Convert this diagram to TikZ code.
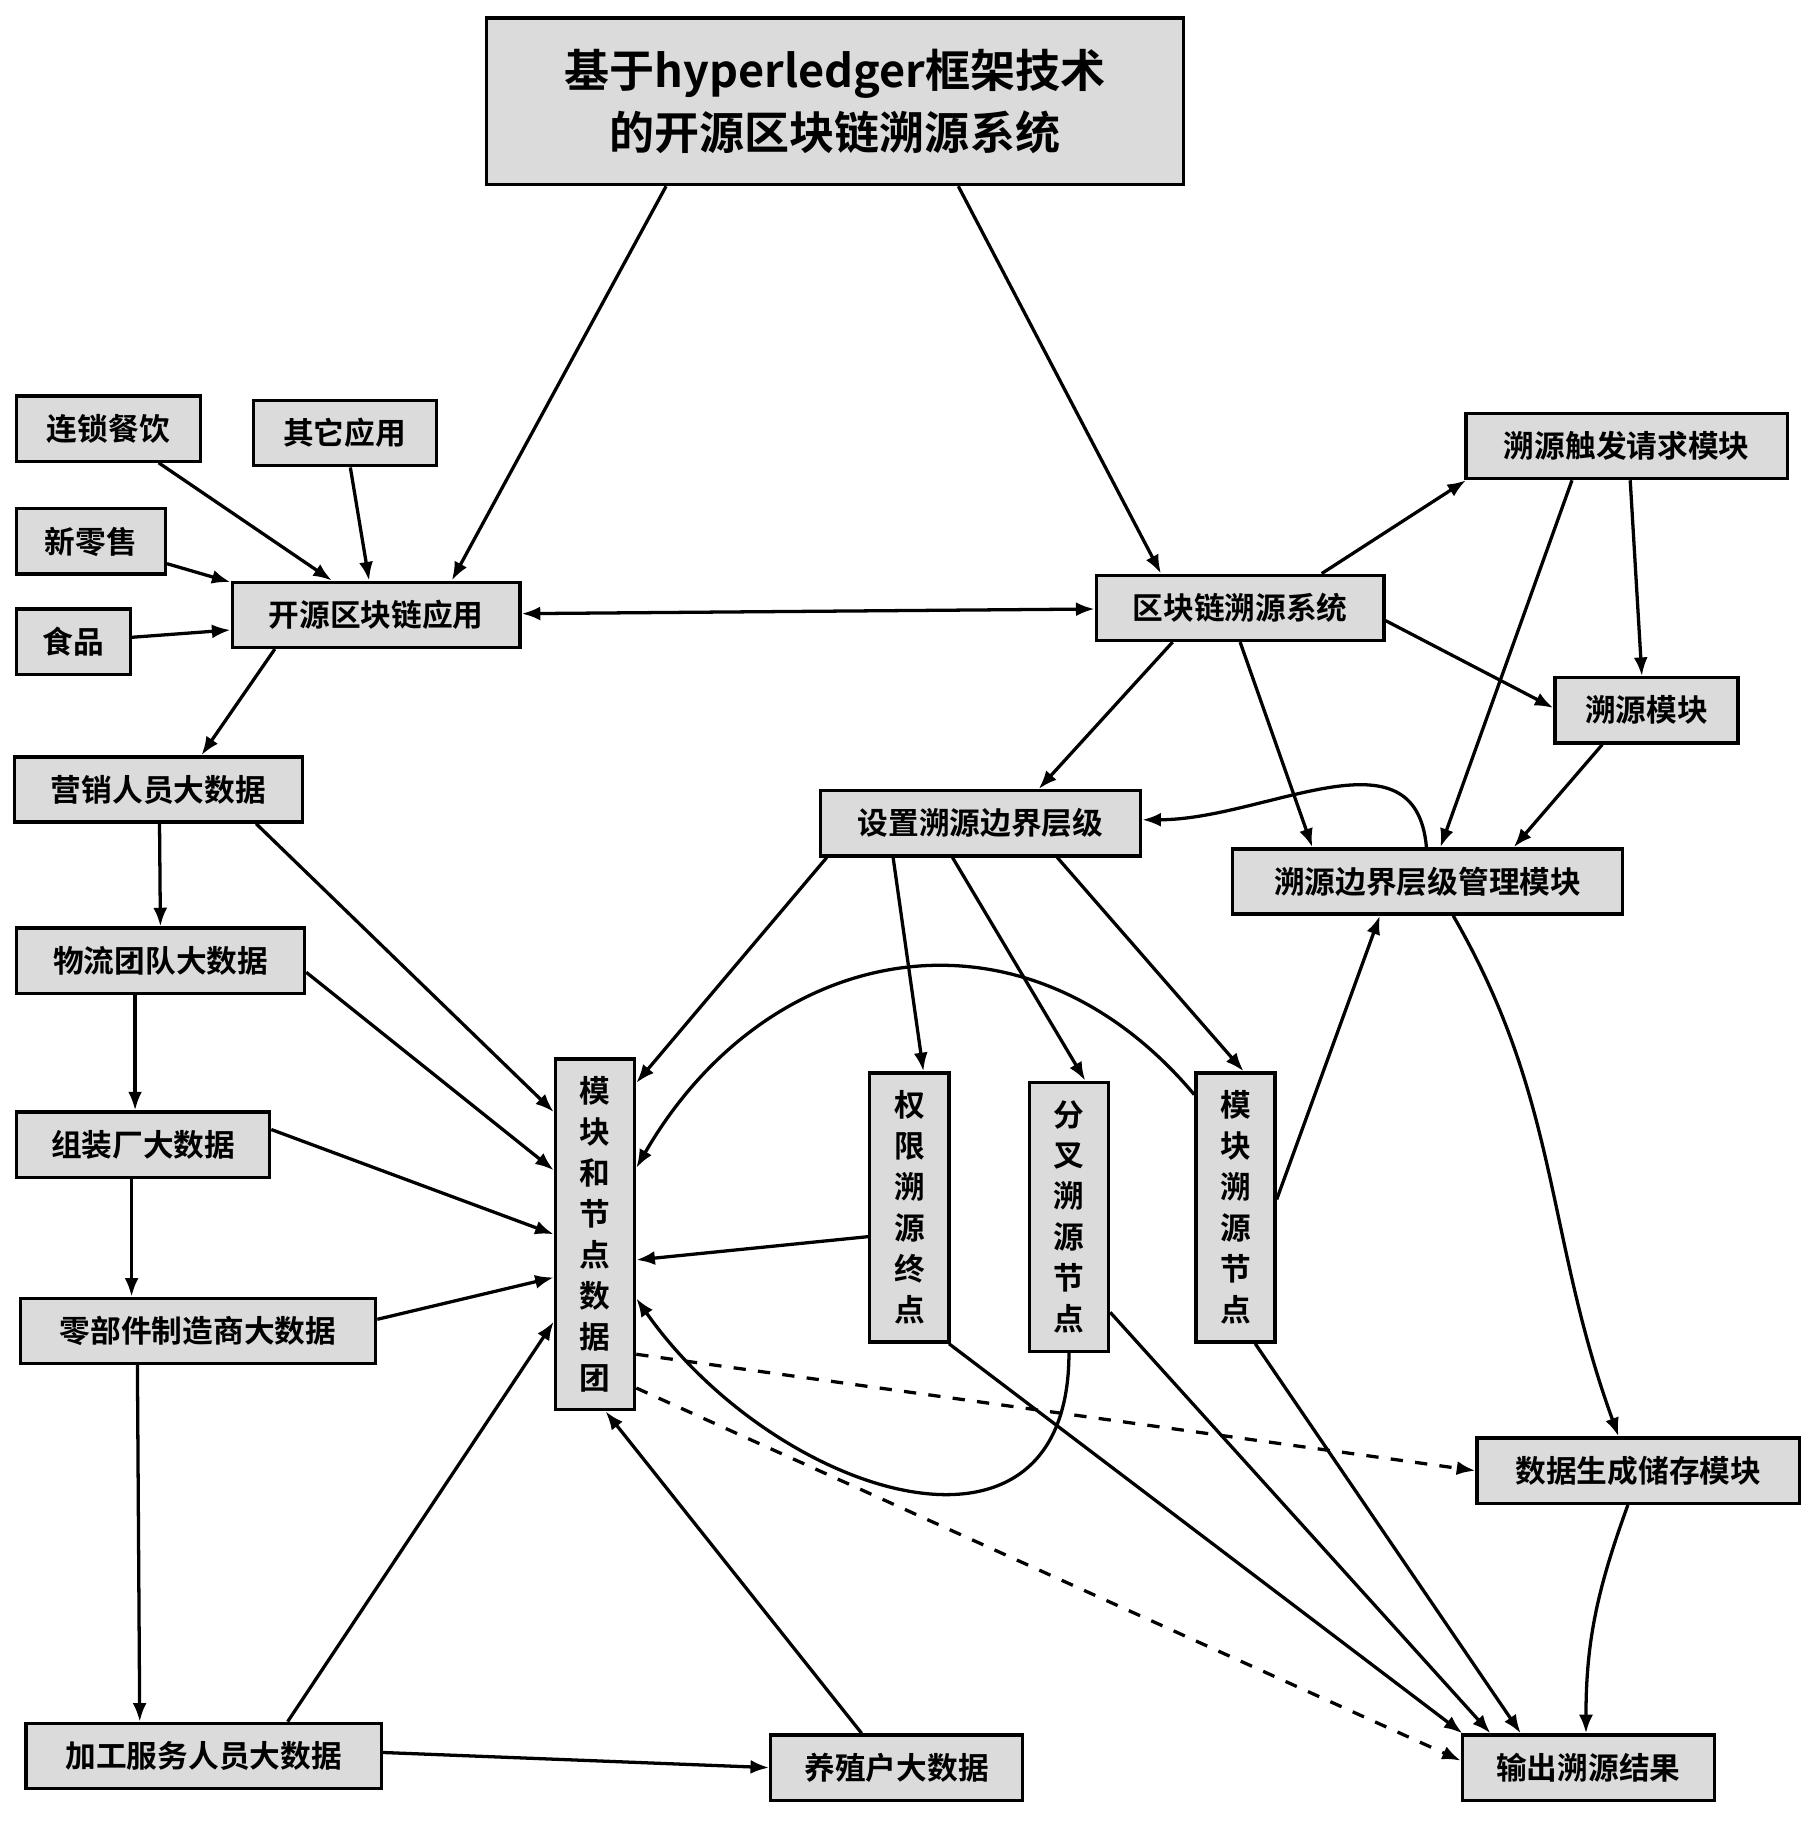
\documentclass[tikz,border=0pt]{standalone}
\usepackage{fontspec}
\setmainfont{Noto Sans CJK SC}
\newfontfamily\cjkb{Noto Sans CJK SC Bold}
\usetikzlibrary{arrows.meta, positioning}

\begin{document}
\begin{tikzpicture}[x=0.01cm, y=-0.01cm,
    box/.style={draw, fill=gray!28, thick, inner sep=0pt, align=center, font=\cjkb\fontsize{7.5}{10}\selectfont},
    vbox/.style={box, minimum width=0.68cm, minimum height=2.31cm},
    every edge/.style={draw, thick, -{Latex[length=1.6mm, width=1.2mm]}},
  ]
  \useasboundingbox (0,0) rectangle (1560,1569);

  % title
  \node[box, minimum width=5.98cm, minimum height=1.43cm, font=\cjkb\fontsize{11}{15}\selectfont] (title) at (717,87) {基于hyperledger框架技术\\的开源区块链溯源系统};

  % left side
  \node[box, minimum width=1.58cm, minimum height=0.56cm] (canyin) at (93,368) {连锁餐饮};
  \node[box, minimum width=1.57cm, minimum height=0.56cm] (qita) at (296,372) {其它应用};
  \node[box, minimum width=1.28cm, minimum height=0.56cm] (lingshou) at (78,465) {新零售};
  \node[box, minimum width=0.98cm, minimum height=0.56cm] (shipin) at (63,551) {食品};
  \node[box, minimum width=2.47cm, minimum height=0.56cm] (app) at (323,528) {开源区块链应用};
  \node[box, minimum width=2.47cm, minimum height=0.56cm] (yingxiao) at (136,678) {营销人员大数据};
  \node[box, minimum width=2.47cm, minimum height=0.56cm] (wuliu) at (138,825) {物流团队大数据};
  \node[box, minimum width=2.17cm, minimum height=0.56cm] (zuzhuang) at (123,983) {组装厂大数据};
  \node[box, minimum width=3.05cm, minimum height=0.56cm] (lingbujian) at (170,1143) {零部件制造商大数据};
  \node[box, minimum width=3.05cm, minimum height=0.56cm] (jiagong) at (175,1508) {加工服务人员大数据};
  \node[box, minimum width=2.16cm, minimum height=0.56cm] (yangzhi) at (770,1518) {养殖户大数据};

  % right side
  \node[box, minimum width=2.47cm, minimum height=0.56cm] (sys) at (1065,522) {区块链溯源系统};
  \node[box, minimum width=2.76cm, minimum height=0.56cm] (chufa) at (1397,383) {溯源触发请求模块};
  \node[box, minimum width=1.57cm, minimum height=0.56cm] (suyuan) at (1414,610) {溯源模块};
  \node[box, minimum width=2.75cm, minimum height=0.56cm] (shezhi) at (842,707) {设置溯源边界层级};
  \node[box, minimum width=3.35cm, minimum height=0.56cm] (guanli) at (1226,757) {溯源边界层级管理模块};
  \node[box, minimum width=2.77cm, minimum height=0.56cm] (cunchu) at (1407,1263) {数据生成储存模块};
  \node[box, minimum width=2.16cm, minimum height=0.56cm] (shuchu) at (1364,1518) {输出溯源结果};

  % vertical boxes
  \node[vbox, minimum height=3.01cm] (tuan) at (511,1060) {模\\块\\和\\节\\点\\数\\据\\团};
  \node[vbox] (quanxian) at (781,1037) {权\\限\\溯\\源\\终\\点};
  \node[vbox] (fencha) at (918,1045) {分\\叉\\溯\\源\\节\\点};
  \node[vbox] (mokuai) at (1061,1037) {模\\块\\溯\\源\\节\\点};

  % connectors
  \path (title.south -| 572,0) edge (app.north -| 388,0)
        (title.south -| 823,0) edge (sys.north -| 997,0)
        (canyin) edge (app.north -| 285,0)
        (qita) edge (app.north -| 317,0)
        (lingshou) edge (app.west |- 0,500)
        (shipin) edge (app.west |- 0,541)
        (app) edge[{Latex[length=1.6mm, width=1.2mm]}-{Latex[length=1.6mm, width=1.2mm]}] (sys)
        (app.south -| 236,0) edge (yingxiao.north -| 173,0)
        (sys.north -| 1135,0) edge (chufa.south west -| 1259,408)
        (sys.east |- 0,533) edge (suyuan.west |- 0,608)
        (sys.south -| 1007,0) edge (shezhi.north -| 892,0)
        (sys.south -| 1065,0) edge (guanli.north -| 1127,0)
        (chufa.south -| 1400,0) edge (suyuan.north -| 1410,0)
        (chufa.south -| 1350,0) edge (guanli.north -| 1237,0)
        (suyuan.south -| 1376,0) edge (guanli.north -| 1300,0)
        (yingxiao.south -| 137,0) edge (wuliu)
        (wuliu.south -| 116,0) edge (zuzhuang.north -| 116,0)
        (zuzhuang.south -| 113,0) edge (lingbujian.north -| 113,0)
        (lingbujian.south -| 118,0) edge (jiagong.north -| 120,0)
        (yingxiao.south -| 220,0) edge (tuan.west |- 0,955)
        (wuliu.east |- 0,835) edge (tuan.west |- 0,1005)
        (zuzhuang.east |- 0,970) edge (tuan.west |- 0,1060)
        (lingbujian.east |- 0,1133) edge (tuan.west |- 0,1097)
        (jiagong.north -| 247,0) edge (tuan.west |- 0,1135)
        (jiagong.east |- 0,1505) edge (yangzhi.west |- 0,1518)
        (yangzhi.north -| 740,0) edge (tuan.south -| 520,0)
        (shezhi.south -| 710,0) edge (tuan.east |- 0,930)
        (shezhi.south -| 767,0) edge (quanxian.north -| 793,0)
        (shezhi.south -| 818,0) edge (fencha.north -| 932,0)
        (shezhi.south -| 908,0) edge (mokuai.north -| 1068,0)
        (mokuai.east |- 0,1030) edge (guanli.south -| 1185,0)
        (quanxian.west |- 0,1062) edge (tuan.east |- 0,1082)
        (quanxian.south -| 815,0) edge (shuchu.north -| 1256,0)
        (fencha.east |- 0,1127) edge (shuchu.north -| 1280,0)
        (mokuai.south -| 1078,0) edge (shuchu.north -| 1306,0)
        (tuan.east |- 0,1163) edge[dashed] (cunchu.west |- 0,1263)
        (tuan.east |- 0,1192) edge[dashed] (shuchu.west |- 0,1512)
        (guanli.north -| 1225,0) edge[out=95, in=0, looseness=1.1] (shezhi.east |- 0,704)
        (guanli.south -| 1248,0) edge[out=-60, in=110] (cunchu.north -| 1390,0)
        (cunchu.south -| 1398,0) edge[out=-110, in=90] (shuchu.north -| 1362,0)
        (mokuai.west |- 0,940) edge[out=130, in=60, looseness=1.2] (tuan.east |- 0,1003)
        (fencha.south) edge[out=-90, in=-55, looseness=1.4] (tuan.east |- 0,1115);
\end{tikzpicture}
\end{document}
